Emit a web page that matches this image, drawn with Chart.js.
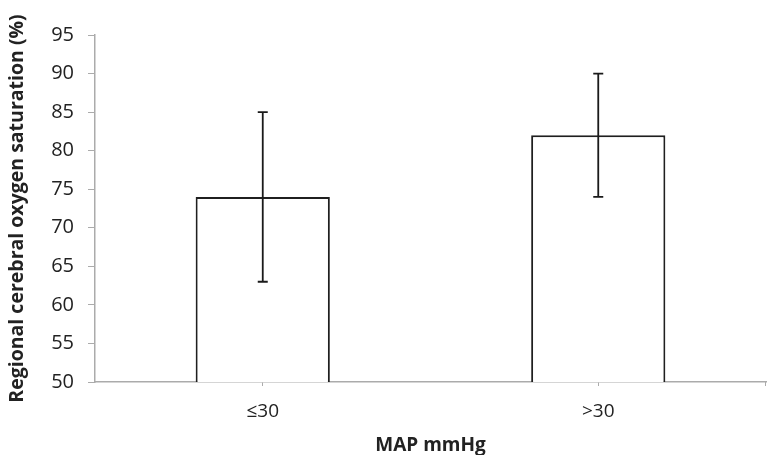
<!DOCTYPE html>
<html>
<head>
<meta charset="utf-8">
<script src="https://cdn.jsdelivr.net/npm/chart.js@4.4.0/dist/chart.umd.min.js"></script>
<style>
  html, body { margin: 0; padding: 0; background: #fff; }
  #wrap { width: 769px; height: 455px; }
</style>
</head>
<body>
<div id="wrap"><canvas id="myChart" width="769" height="455"></canvas></div>
<script>
const categories = ['\u226430', '>30'];
const means = [74, 82];
const errLow = [63, 74];
const errHigh = [85, 90];
const yTicks = [50, 55, 60, 65, 70, 75, 80, 85, 90, 95];

const axisColor = '#ababab';

// error bars + closing tick at right end of x axis
const errorBars = {
    id: 'errorBars',
    afterDatasetsDraw(chart) {
        const ctx = chart.ctx;
        const x = chart.scales.x;
        const y = chart.scales.y;
        ctx.save();
        ctx.strokeStyle = '#1a1a1a';
        ctx.lineWidth = 1.8;
        for (let i = 0; i < categories.length; i++) {
            const cx = x.getPixelForValue(i);
            const top = y.getPixelForValue(errHigh[i]);
            const bot = y.getPixelForValue(errLow[i]);
            ctx.beginPath();
            ctx.moveTo(cx, top);
            ctx.lineTo(cx, bot);
            ctx.moveTo(cx - 5, top);
            ctx.lineTo(cx + 5, top);
            ctx.moveTo(cx - 5, bot);
            ctx.lineTo(cx + 5, bot);
            ctx.stroke();
        }
        ctx.strokeStyle = axisColor;
        ctx.lineWidth = 1;
        ctx.beginPath();
        ctx.moveTo(x.right - 0.5, y.bottom);
        ctx.lineTo(x.right - 0.5, y.bottom + 4);
        ctx.stroke();
        ctx.restore();
    }
};

const ctx = document.getElementById('myChart');
new Chart(ctx, {
    type: 'bar',
    data: {
        labels: categories,
        datasets: [{
            data: means,
            backgroundColor: '#ffffff',
            borderColor: '#1f1f1f',
            borderWidth: 2,
            barPercentage: 0.4,
            categoryPercentage: 1.0
        }]
    },
    options: {
        responsive: false,
        animation: false,
        layout: { padding: { top: 35, right: 3, left: 0, bottom: 0 } },
        plugins: {
            legend: { display: false },
            tooltip: { enabled: false }
        },
        scales: {
            x: {
                offset: true,
                grid: {
                    offset: false,
                    drawOnChartArea: false,
                    drawTicks: true,
                    tickLength: 4,
                    color: axisColor
                },
                border: { color: axisColor, width: 1.5 },
                ticks: {
                    color: '#222',
                    padding: 14,
                    font: { family: 'Open Sans', size: 19 }
                },
                title: {
                    display: true,
                    text: 'MAP mmHg',
                    color: '#222',
                    font: { family: 'Open Sans', size: 19, weight: 'bold' },
                    padding: { top: 0, bottom: -2 }
                },
                afterFit(scale) { scale.height = 73; }
            },
            y: {
                min: 50,
                max: 95,
                afterBuildTicks(scale) {
                    scale.ticks = yTicks.map(v => ({ value: v }));
                },
                grid: {
                    drawOnChartArea: false,
                    drawTicks: true,
                    tickLength: 7,
                    color: axisColor
                },
                border: { color: axisColor, width: 1.5 },
                ticks: {
                    color: '#222',
                    padding: 14,
                    font: { family: 'Open Sans', size: 20 }
                },
                title: {
                    display: true,
                    text: 'Regional cerebral oxygen saturation (%)',
                    color: '#222',
                    font: { family: 'Open Sans', size: 19.5, weight: 'bold' },
                    padding: { top: 6, bottom: 0 }
                },
                afterFit(scale) { scale.width = 95; }
            }
        }
    },
    plugins: [errorBars]
});
</script>
</body>
</html>
